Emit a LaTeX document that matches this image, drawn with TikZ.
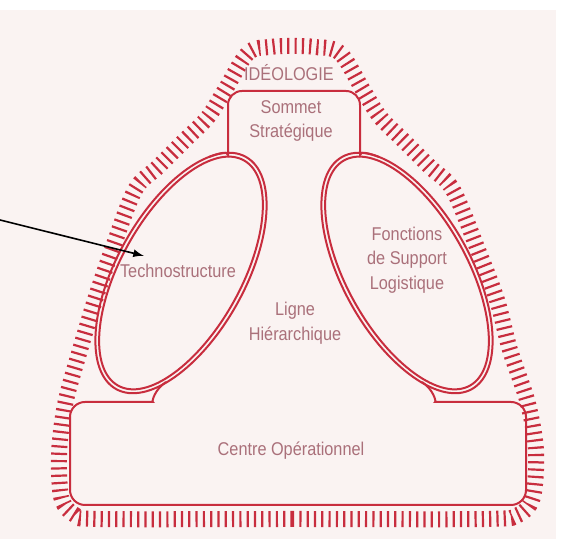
\documentclass[tikz,border=0pt]{standalone}
\usepackage{fontspec}
\setmainfont{Liberation Sans}[FakeStretch=0.88]
\definecolor{papier}{RGB}{250,243,242}
\definecolor{rouge}{RGB}{200,45,62}
\definecolor{texte}{RGB}{170,112,122}
\begin{document}
\begin{tikzpicture}[x=0.5pt,y=0.5pt,
  ideo/.style={rouge,line width=8pt,dash pattern=on 1.1pt off 2.55pt},
  trait/.style={rouge,line width=1pt},
  etiquette/.style={texte,font=\fontsize{9.25}{12.25}\selectfont,align=center,inner sep=1pt}]
\useasboundingbox (0,0) rectangle (568,539);
\fill[papier] (0,0) rectangle (556,529);
\draw[ideo] plot[smooth cycle,tension=0.55] coordinates {(100,20) (292,20) (485,20) (518,24) (532,39) (536,69) (535,99) (527,139) (510,189) (497,239) (478,289) (453,349) (430,372) (403,399) (380,422) (363,449) (340,486) (315,492) (292,493) (270,492) (248,486) (225,449) (208,422) (185,399) (158,372) (135,349) (112,289) (95,239) (80,189) (66,139) (60,99) (59,69) (62,39) (75,24)};
\draw[trait] (181,266) ellipse [x radius=133,y radius=64,rotate=60.8];
\draw[trait] (181,266) ellipse [x radius=129,y radius=60,rotate=60.8];
\draw[trait] (407,266) ellipse [x radius=133,y radius=64,rotate=-60.8];
\draw[trait] (407,266) ellipse [x radius=129,y radius=60,rotate=-60.8];
\draw[trait,rounded corners=7pt] (209,382) to[out=21.5,in=-90] (228,398) -- (228,448) -- (360,448) -- (360,398) to[out=-90,in=158.5] (379,382);
\draw[trait,rounded corners=7.5pt] (166,157) to[out=213,in=0] (138,137) -- (70,137) -- (70,34) -- (526,34) -- (526,137) -- (450,137) to[out=180,in=-33] (422,157);
\node[etiquette] (ideologie) at (289,466) {IDÉOLOGIE};
\node[etiquette] (sommet) at (291,418) {Sommet\\Stratégique};
\node[etiquette] (technostructure) at (178,268) {Technostructure};
\node[etiquette] (ligne) at (295,216) {Ligne\\Hiérarchique};
\node[etiquette] (support) at (407,279) {Fonctions\\de Support\\Logistique};
\node[etiquette] (centre) at (291,88) {Centre Opérationnel};
\coordinate (depart) at (0,319);
\draw[-latex,line width=0.8pt] (depart) -- ([xshift=13pt,yshift=3pt]technostructure.north west);
\end{tikzpicture}
\end{document}
